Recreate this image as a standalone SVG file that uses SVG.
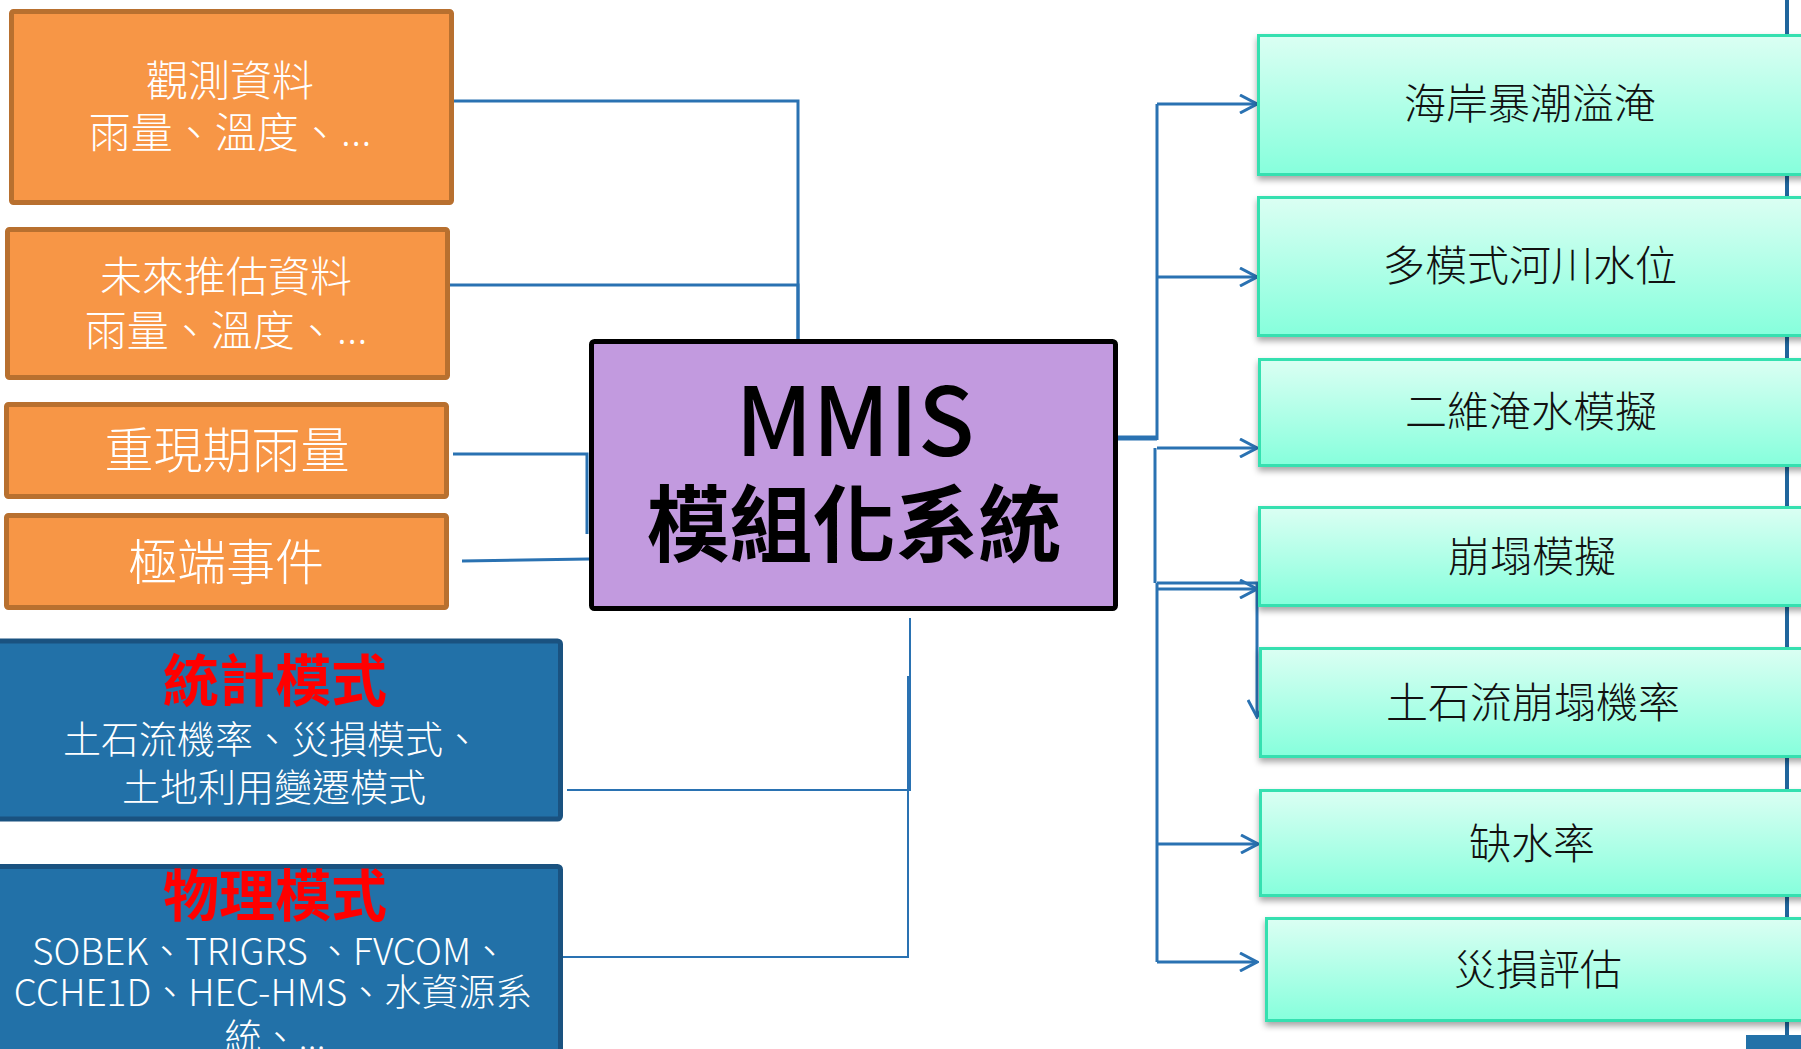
<svg xmlns="http://www.w3.org/2000/svg" width="1801" height="1049" viewBox="0 0 1801 1049">
<defs>
  <linearGradient id="gGreen" x1="0" y1="0" x2="0" y2="1">
    <stop offset="0" stop-color="#DBFFF3"/>
    <stop offset="1" stop-color="#86FFDC"/>
  </linearGradient>
  <filter id="shadow" x="-5%" y="-10%" width="110%" height="130%">
    <feDropShadow dx="0" dy="4" stdDeviation="3" flood-color="#000" flood-opacity="0.35"/>
  </filter>
  <marker id="arrow" viewBox="0 0 20 20" refX="18" refY="10" markerWidth="20" markerHeight="20" markerUnits="userSpaceOnUse" orient="auto">
    <path d="M1,1 L18,10 L1,19" fill="none" stroke="#2A72B2" stroke-width="3"/>
  </marker>
</defs>
<style>
  .orange { fill: #F79646; stroke: #B8702F; stroke-width: 5; }
  .blue { fill: #2271A8; stroke: #1A5280; stroke-width: 5; }
  .green { fill: url(#gGreen); stroke: #35E0B0; stroke-width: 3; filter: url(#shadow); }
  .center { fill: #C29ADF; stroke: #000; stroke-width: 5; }
  .t { font-family: "Noto Sans CJK TC", "Noto Sans CJK JP", sans-serif; text-anchor: middle; dominant-baseline: central; }
  .w { fill: #FFFFFF; font-weight: 300; }
  .red { fill: #FF0000; font-weight: bold; font-size: 56px; }
  .dk { fill: #111111; font-size: 42px; font-weight: 300; }
  .c { stroke: #2A72B2; stroke-width: 3; fill: none; }
  .thin { stroke: #2A72B2; stroke-width: 2; fill: none; }
</style>

<!-- far right trunk line and bottom block -->
<g id="edge-right">
  <line x1="1787" y1="0" x2="1787" y2="1036" stroke="#1F659C" stroke-width="4"/>
  <rect x="1746" y="1035" width="60" height="20" fill="#2271A8"/>
</g>

<g id="connectors">
  <path class="c" d="M454,101 H798 V339"/>
  <path class="c" d="M449,285 H798 V339"/>
  <path class="c" d="M453,454 H587 V534"/>
  <path class="c" d="M462,561 L589,559"/>
  <path class="thin" d="M567,790 H910 V618"/>
  <path class="thin" d="M562,957 H908 V677 H911"/>
  <path d="M1118,438 H1157" stroke="#2A72B2" stroke-width="5" fill="none"/>
  <path class="c" d="M1157,104 V440"/>
  <path class="c" d="M1155,448 V583"/>
  <path class="c" d="M1157,583 V962"/>
  <path class="c" d="M1157,104 H1257" marker-end="url(#arrow)"/>
  <path class="c" d="M1157,277 H1257" marker-end="url(#arrow)"/>
  <path class="c" d="M1157,448 H1257" marker-end="url(#arrow)"/>
  <path class="c" d="M1157,589 H1257" marker-end="url(#arrow)"/>
  <path class="c" d="M1157,583 H1257 V717" marker-end="url(#arrow)"/>
  <path class="c" d="M1157,844 H1258" marker-end="url(#arrow)"/>
  <path class="c" d="M1157,962 H1257" marker-end="url(#arrow)"/>
</g>

<g id="obs">
  <rect class="orange" x="11.5" y="11.5" width="440" height="191" rx="2"/>
  <text class="t w" x="230" y="77" font-size="42">觀測資料</text>
  <text class="t w" x="230" y="129" font-size="42">雨量、溫度、<tspan font-family="Noto Sans, sans-serif">…</tspan></text>
</g>
<g id="future">
  <rect class="orange" x="7.5" y="229.5" width="440" height="148" rx="2"/>
  <text class="t w" x="226" y="273" font-size="42">未來推估資料</text>
  <text class="t w" x="226" y="327" font-size="42">雨量、溫度、<tspan font-family="Noto Sans, sans-serif">…</tspan></text>
</g>
<g id="return">
  <rect class="orange" x="6.5" y="404.5" width="440" height="92" rx="2"/>
  <text class="t w" x="227" y="446" font-size="49">重現期雨量</text>
</g>
<g id="extreme">
  <rect class="orange" x="6.5" y="515.5" width="440" height="92" rx="2"/>
  <text class="t w" x="226" y="558" font-size="49">極端事件</text>
</g>

<g id="stat">
  <rect class="blue" x="-5" y="641" width="565.5" height="178" rx="3"/>
  <text class="t red" x="275" y="676">統計模式</text>
  <text class="t w" x="272" y="736" font-size="38">土石流機率、災損模式、</text>
  <text class="t w" x="274" y="784" font-size="38">土地利用變遷模式</text>
</g>
<g id="phys">
  <rect class="blue" x="-5" y="866.5" width="565.5" height="200" rx="3"/>
  <text class="t red" x="275" y="891">物理模式</text>
  <text class="t w" x="270" y="949" font-size="37">SOBEK、TRIGRS 、FVCOM、</text>
  <text class="t w" x="273" y="990" font-size="37">CCHE1D、HEC-HMS、水資源系</text>
  <text class="t w" x="275" y="1035" font-size="37">統、<tspan font-family="Noto Sans, sans-serif">…</tspan></text>
</g>

<g id="mmis">
  <rect class="center" x="591.5" y="341.5" width="524" height="267" rx="3"/>
  <text x="855" y="456" font-family="Noto Sans CJK TC, sans-serif" font-size="95" font-weight="500" text-anchor="middle" fill="#000" textLength="239" lengthAdjust="spacingAndGlyphs">MMIS</text>
  <text class="t" x="854" y="519" font-size="83" font-weight="bold" fill="#000">模組化系統</text>
</g>

<g id="r1">
  <rect class="green" x="1258.5" y="35.5" width="560" height="139"/>
  <text class="t dk" x="1530" y="100">海岸暴潮溢淹</text>
</g>
<g id="r2">
  <rect class="green" x="1258.5" y="197.5" width="560" height="138"/>
  <text class="t dk" x="1530" y="262">多模式河川水位</text>
</g>
<g id="r3">
  <rect class="green" x="1259.5" y="359.5" width="560" height="106"/>
  <text class="t dk" x="1531" y="408">二維淹水模擬</text>
</g>
<g id="r4">
  <rect class="green" x="1259.5" y="507.5" width="560" height="98"/>
  <text class="t dk" x="1532" y="553">崩塌模擬</text>
</g>
<g id="r5">
  <rect class="green" x="1260.5" y="648.5" width="560" height="108"/>
  <text class="t dk" x="1533" y="699">土石流崩塌機率</text>
</g>
<g id="r6">
  <rect class="green" x="1260.5" y="790.5" width="560" height="105"/>
  <text class="t dk" x="1532" y="840">缺水率</text>
</g>
<g id="r7">
  <rect class="green" x="1266.5" y="918.5" width="560" height="102"/>
  <text class="t dk" x="1538" y="966">災損評估</text>
</g>
</svg>
